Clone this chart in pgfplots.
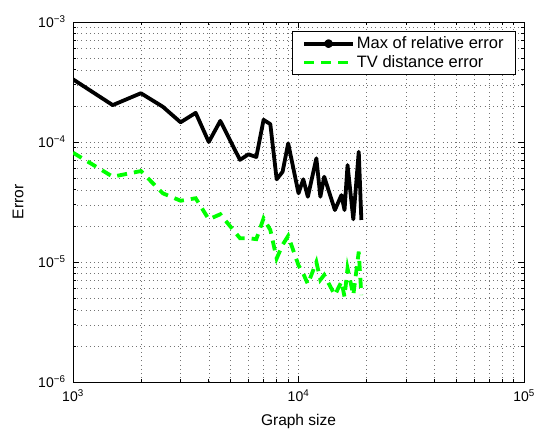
\documentclass[border=0pt]{standalone}
\usepackage{fontspec}
\setmainfont{Liberation Sans}
\usepackage{pgfplots}
\pgfplotsset{compat=1.18}
\pgfplotsset{
  linelegend/.style={legend image code/.code={\draw[##1] (0bp,0bp) -- (49bp,0bp);}},
  dotlegend/.style={legend image code/.code={\draw[##1] (0bp,0bp) -- (49bp,0bp);
      \fill[black] (24.5bp,0bp) circle (2.4bp);}},
}

% graph size vs. error
\pgfplotstableread{
x y
1000 3.33e-4
1500 2.03e-4
2000 2.55e-4
2500 1.97e-4
3000 1.46e-4
3500 1.75e-4
4000 1.00e-4
4500 1.50e-4
5500 7.10e-5
6000 7.90e-5
6500 7.50e-5
7000 1.53e-4
7500 1.41e-4
8000 4.89e-5
8500 5.65e-5
9000 9.75e-5
10000 3.74e-5
10500 4.89e-5
11000 3.50e-5
12000 7.31e-5
12500 3.50e-5
13000 5.14e-5
14500 2.71e-5
15500 3.61e-5
16000 2.71e-5
16500 6.43e-5
17500 2.27e-5
18500 8.30e-5
19000 2.24e-5
}\relerr

\pgfplotstableread{
x y
1000 8.15e-5
1500 5.14e-5
2000 5.73e-5
2500 3.74e-5
3000 3.24e-5
3500 3.40e-5
4000 2.27e-5
4500 2.50e-5
5500 1.58e-5
6000 1.58e-5
6500 1.55e-5
7000 2.31e-5
7500 1.85e-5
8000 1.07e-5
8500 1.39e-5
9000 1.65e-5
10000 9.40e-6
10500 8.00e-6
11000 6.55e-6
12000 1.00e-5
12500 7.10e-6
13000 7.80e-6
14500 5.30e-6
15500 6.86e-6
16000 5.14e-6
16500 8.85e-6
17500 5.30e-6
18500 1.22e-5
19000 5.30e-6
}\tverr

\begin{document}
\begin{tikzpicture}
\begin{loglogaxis}[
    scale only axis,
    width=451bp, height=360bp,
    xmin=1000, xmax=100000,
    ymin=1e-6, ymax=1e-3,
    xtick={1000,10000,100000},
    xticklabels={10\textsuperscript{3},10\textsuperscript{4},10\textsuperscript{5}},
    minor xtick={2000,3000,4000,5000,6000,7000,8000,9000,20000,30000,40000,50000,60000,70000,80000,90000},
    ytick={1e-6,1e-5,1e-4,1e-3},
    yticklabels={10\textsuperscript{−6},10\textsuperscript{−5},10\textsuperscript{−4},10\textsuperscript{−3}},
    minor ytick={2e-6,3e-6,4e-6,5e-6,6e-6,7e-6,8e-6,9e-6,2e-5,3e-5,4e-5,5e-5,6e-5,7e-5,8e-5,9e-5,2e-4,3e-4,4e-4,5e-4,6e-4,7e-4,8e-4,9e-4},
    tick align=inside,
    major tick length=6bp, minor tick length=3bp,
    axis line style={line width=0.8bp},
    every tick/.style={black, line width=0.6bp},
    grid=both,
    major grid style={black!55, line width=0.5bp, dash pattern=on 0.6bp off 3.6bp},
    minor grid style={black!55, line width=0.5bp, dash pattern=on 0.6bp off 3.6bp},
    tick label style={font=\fontsize{14bp}{16bp}\selectfont},
    xticklabel style={yshift=-4bp},
    yticklabel style={xshift=-4bp},
    label style={font=\fontsize{15.5bp}{18bp}\selectfont},
    xlabel={Graph size},
    xlabel style={yshift=-6bp},
    ylabel={Error},
    ylabel style={yshift=8bp},
    legend style={at={(1,1)}, anchor=north east, xshift=-8bp, yshift=-9bp,
        draw=black, line width=0.8bp, font=\fontsize{16.5bp}{19bp}\selectfont,
        inner xsep=10bp, inner ysep=3.5bp, row sep=1.5bp},
    legend cell align=left,
    linelegend,
]
\addplot[black, line width=3.8bp, line join=round, dotlegend] table {\relerr};
\addplot[green, line width=3.8bp, dash pattern=on 10bp off 7bp] table {\tverr};
\legend{Max of relative error, TV distance error}
\end{loglogaxis}
\pgfresetboundingbox
\path (-73bp,-47bp) rectangle (466bp,382bp);
\end{tikzpicture}
\end{document}
